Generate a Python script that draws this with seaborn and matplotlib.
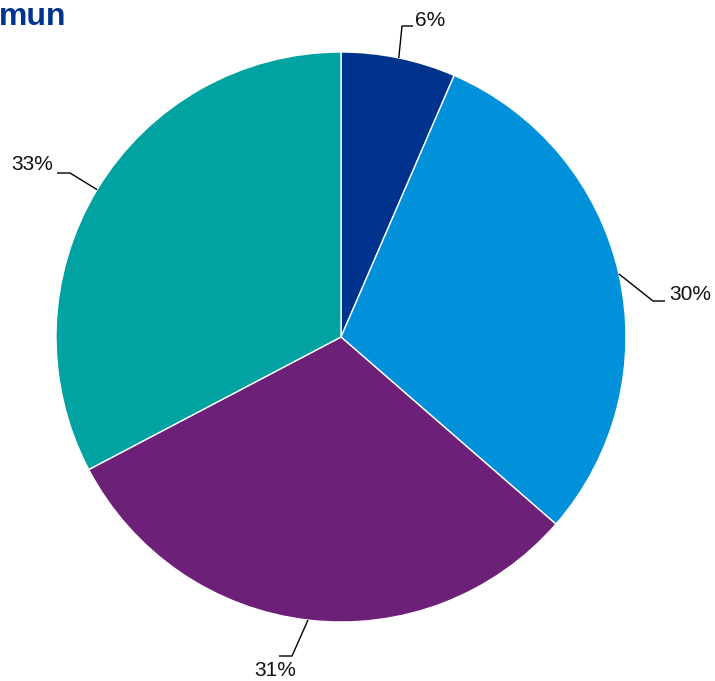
import numpy as np
import matplotlib
matplotlib.use("Agg")
import matplotlib.pyplot as plt
import seaborn as sns

# ---- data ----
categories = ["Kategori 1", "Kategori 2", "Kategori 3", "Kategori 4"]
values = [6.5, 29.9, 30.9, 32.7]
labels = ["6%", "30%", "31%", "33%"]
colors = ["#00338D", "#0091DA", "#6D2077", "#00A3A1"]
title_text = "mun"

sns.set_theme(style="white")
plt.rcParams["font.family"] = ["Liberation Sans", "DejaVu Sans"]

W, H = 715, 681
fig = plt.figure(figsize=(W / 100, H / 100), dpi=100)
ax = fig.add_axes([0, 0, 1, 1])

cx, cy, R = 341, H - 337, 285
wedges, _ = ax.pie(values, colors=colors, startangle=90, counterclock=False,
                   center=(cx, cy), radius=R,
                   wedgeprops=dict(edgecolor="white", linewidth=1.0),
                   frame=True)
ax.set_xlim(0, W)
ax.set_ylim(0, H)
ax.set_aspect("equal")
ax.axis("off")

# label layout: (elbow point, end of horizontal, text pos, ha) in pixel coords (y from top)
layout = [
    ((402, 26), (413, 26), (415, 20), "left"),
    ((653, 301), (665, 301), (669, 294), "left"),
    ((292, 656), (279, 656), (275, 671), "center"),
    ((70, 173), (57, 173), (53, 165), "right"),
]

for w, lab, (elb, hend, tpos, ha) in zip(wedges, labels, layout):
    mid = np.deg2rad((w.theta1 + w.theta2) / 2)
    ex, ey = cx + R * np.cos(mid), cy + R * np.sin(mid)
    ax.plot([ex, elb[0], hend[0]], [ey, H - elb[1], H - hend[1]],
            color="black", lw=1.0, solid_capstyle="butt")
    ax.text(tpos[0], H - tpos[1], lab, ha=ha, va="center", fontsize=15,
            color="#111111")

ax.text(-1, H - 25, title_text, ha="left", va="baseline", fontsize=23,
        fontweight="bold", color="#00338D",
        family=["Liberation Sans Narrow", "Liberation Sans", "DejaVu Sans"])

fig.savefig("out.png", dpi=100)
